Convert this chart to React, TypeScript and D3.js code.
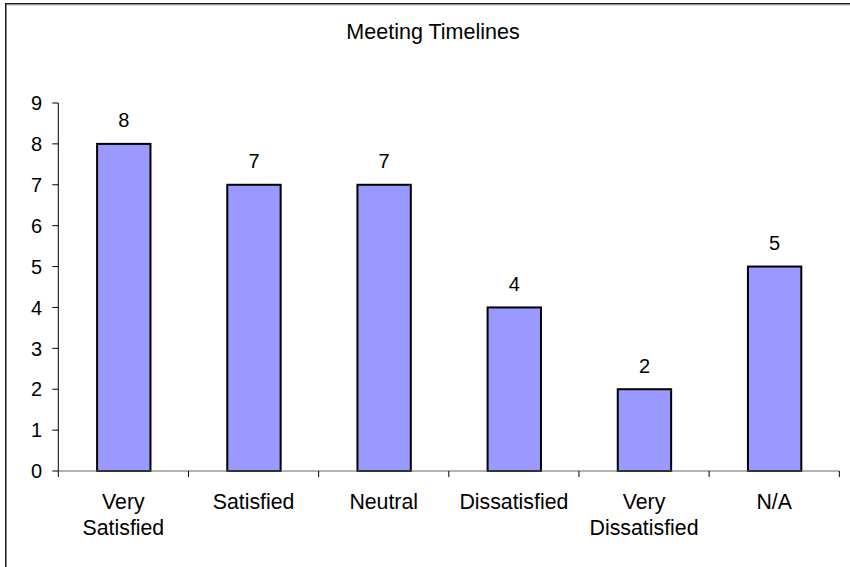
import React from "react";
import * as d3 from "d3";

const categories: string[][] = [
  ["Very", "Satisfied"],
  ["Satisfied"],
  ["Neutral"],
  ["Dissatisfied"],
  ["Very", "Dissatisfied"],
  ["N/A"],
];
const counts: number[] = [8, 7, 7, 4, 2, 5];
const yTicks: number[] = [0, 1, 2, 3, 4, 5, 6, 7, 8, 9];
const title = "Meeting Timelines";

const W = 850;
const H = 567;
const FONT = "'Liberation Sans', Arial, sans-serif";

export default function App() {
  const keys = categories.map((c) => c.join(" "));
  const x = d3.scaleBand<string>().domain(keys).range([58.3, 839.3]).padding(0);
  const y = d3.scaleLinear().domain([0, 9]).range([471, 103]);
  const barW = x.bandwidth() * 0.41;
  const x0 = x.range()[0];
  const x1 = x.range()[1];
  const boundaries = keys.map((k) => x(k)!).concat([x1]);

  return (
    <svg
      width={W}
      height={H}
      style={{ position: "absolute", left: 0, top: 0, background: "#fff" }}
      fontFamily={FONT}
    >
      <rect x={0} y={0} width={W} height={H} fill="#fff" />
      {/* outer chart frame */}
      <rect x={5.75} y={3.75} width={W + 20} height={H + 20} fill="none" stroke="#1a1a1a" strokeWidth={1.5} />
      <line x1={6.5} x2={W} y1={4.9} y2={4.9} stroke="#999" strokeWidth={0.8} />

      <text x={433} y={39} textAnchor="middle" fontSize={21.5} fill="#000">
        {title}
      </text>

      {/* y axis */}
      <line x1={x0} x2={x0} y1={y(9)} y2={y(0)} stroke="#000" strokeWidth={1} />
      {yTicks.map((t) => (
        <g key={t}>
          <line x1={x0 - 6} x2={x0} y1={y(t)} y2={y(t)} stroke="#000" strokeWidth={1} />
          <text x={42} y={y(t)} dy="0.36em" textAnchor="end" fontSize={20} fill="#000">
            {t}
          </text>
        </g>
      ))}

      {/* bars */}
      {counts.map((v, i) => {
        const cx = x(keys[i])! + x.bandwidth() / 2 + 0.4;
        return (
          <g key={keys[i]}>
            <rect
              x={cx - barW / 2}
              y={y(v)}
              width={barW}
              height={y(0) - y(v)}
              fill="#9999FF"
              stroke="#000"
              strokeWidth={2}
            />
            <text x={cx} y={y(v) - 16.5} textAnchor="middle" fontSize={20} fill="#000">
              {v}
            </text>
          </g>
        );
      })}

      {/* x axis */}
      <line x1={x0} x2={x1} y1={y(0)} y2={y(0)} stroke="#666" strokeWidth={1} />
      {boundaries.map((b, i) => (
        <line key={i} x1={b} x2={b} y1={y(0)} y2={y(0) + 6} stroke="#000" strokeWidth={1} />
      ))}
      {categories.map((lines, i) => {
        const cx = x(keys[i])! + x.bandwidth() / 2;
        return (
          <text key={keys[i]} x={cx} textAnchor="middle" fontSize={21.3} fill="#000">
            {lines.map((ln, j) => (
              <tspan key={j} x={cx} y={509 + j * 26}>
                {ln}
              </tspan>
            ))}
          </text>
        );
      })}
    </svg>
  );
}
